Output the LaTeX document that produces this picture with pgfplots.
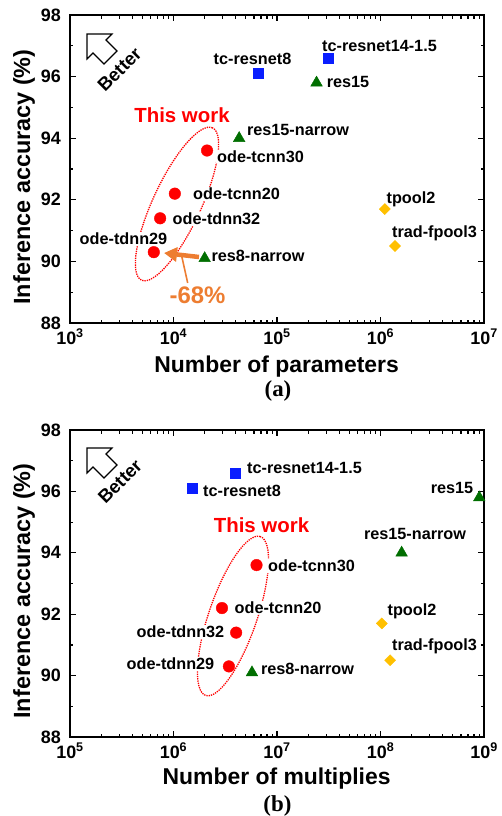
\documentclass[border=0pt]{standalone}
\usepackage{fontspec}
\setmainfont{Liberation Sans}
\newfontfamily\seriffont{Liberation Serif}
\usepackage{pgfplots}
\pgfplotsset{compat=1.18}
\usetikzlibrary{arrows.meta}
\definecolor{mred}{RGB}{255,0,0}
\definecolor{mblue}{RGB}{10,30,255}
\definecolor{mgreen}{RGB}{0,110,0}
\definecolor{myellow}{RGB}{255,192,0}
\definecolor{morange}{RGB}{237,125,49}
\newcommand{\fsz}[1]{\fontsize{#1}{#1}\selectfont\bfseries}
\pgfplotsset{
  myaxisstyle/.style={
    scale only axis, width=414bp,
    ymin=88, ymax=98, ytick={88,90,92,94,96,98},
    yticklabels={88,90,92,94,96,98},
    minor y tick num=1,
    axis line style={line width=1.5bp},
    every tick/.style={black, line width=1.2bp},
    major tick length=6bp, minor tick length=3.5bp,
    tick label style={font=\fsz{18}},
    yticklabel style={inner sep=0pt, xshift=-9bp},
    xticklabel style={inner sep=0pt, yshift=-6bp},
    label style={font=\fsz{23}},
    clip=false,
  },
  mycirc/.style={only marks, mark=*, mark size=5.8bp, color=mred},
  mysq/.style={only marks, mark=square*, mark size=5bp, color=mblue},
  mytri/.style={only marks, mark=triangle*, mark size=6.7bp, color=mgreen},
  mydia/.style={only marks, mark=square*, mark size=3.9bp, color=myellow, mark options={rotate=45}},
}
\begin{document}
\begin{tikzpicture}
\path[use as bounding box] (0,0) rectangle (502bp,-816bp);
\begin{scope}[x=1bp, y=-1bp]
  % ellipses
  \begin{scope}[shift={(177,204)}, rotate=65]
    \draw[mred, densely dotted, line width=1.3bp] (0,0) ellipse (84bp and 24bp);
  \end{scope}
  \begin{scope}[shift={(233,616)}, rotate=71]
    \draw[mred, densely dotted, line width=1.3bp] (0,0) ellipse (84bp and 24bp);
  \end{scope}
  % labels (a)
  \tikzset{lab/.style={fill=white, inner sep=0.8bp, font=\fsz{16.3}}}
  \node[lab] at (379.5,46) {tc-resnet14-1.5};
  \node[lab] at (252.5,59) {tc-resnet8};
  \node[lab] at (348,82) {res15};
  \node[lab] at (298,130) {res15-narrow};
  \node[lab] at (260.5,156.5) {ode-tcnn30};
  \node[lab] at (236.5,194) {ode-tcnn20};
  \node[lab] at (216.5,219) {ode-tdnn32};
  \node[lab] at (123.5,239) {ode-tdnn29};
  \node[lab] at (258,256) {res8-narrow};
  \node[lab] at (411,199.5) {tpool2};
  \node[lab] at (434.5,233.5) {trad-fpool3};
  \node[font=\fsz{20.5}, text=mred, inner sep=0pt] at (182,115) {This work};
  \node[font=\fsz{24}, text=morange, inner sep=0pt] at (197.5,295) {-68\%};
  \draw[morange, line width=1.6bp] (187.7,283) -- (181.7,256);
  \draw[morange, line width=4.5bp, -{Triangle[length=13bp,width=14bp]}] (199,257) -- (164,253);
  % labels (b)
  \node[lab] at (304.5,468) {tc-resnet14-1.5};
  \node[lab] at (242,491) {tc-resnet8};
  \node[lab] at (452,487.5) {res15};
  \node[lab] at (415,534) {res15-narrow};
  \node[lab] at (311.5,566) {ode-tcnn30};
  \node[lab] at (278,607.5) {ode-tcnn20};
  \node[lab] at (180.5,632) {ode-tdnn32};
  \node[lab] at (170.5,664) {ode-tdnn29};
  \node[lab] at (307.5,668.5) {res8-narrow};
  \node[lab] at (412,611.5) {tpool2};
  \node[lab] at (434.5,646) {trad-fpool3};
  \node[font=\fsz{20.5}, text=mred, inner sep=0pt] at (261.5,525) {This work};
  % Better arrows
  \foreach \dy in {0,414}{
    \begin{scope}[yshift=-\dy bp]
      \draw[line width=1.2bp, fill=white, line join=miter] (87,34)--(112,34)--(106,40)--(117,51)--(104,64)--(93,53)--(87,59)--cycle;
    \end{scope}
  }
  \node[rotate=45, font=\fsz{18.5}, inner sep=0pt] at (119.5,69.5) {Better};
  \node[rotate=45, font=\fsz{18.5}, inner sep=0pt] at (120,481.5) {Better};
  % captions
  \node[font=\seriffont\fontsize{23}{23}\selectfont\bfseries, inner sep=0pt] at (278,391) {(a)};
  \node[font=\seriffont\fontsize{23}{23}\selectfont\bfseries, inner sep=0pt] at (277.5,806) {(b)};
\end{scope}

% ---------- panel (a)
\begin{semilogxaxis}[myaxisstyle, at={(70bp,-15bp)}, anchor=north west, height=308bp,
  xmin=1e3, xmax=1e7,
  xtick={1e3,1e4,1e5,1e6,1e7},
  xticklabels={10\textsuperscript{3},10\textsuperscript{4},10\textsuperscript{5},10\textsuperscript{6},10\textsuperscript{7}},
  minor xtick={2e3,3e3,4e3,5e3,6e3,7e3,8e3,9e3,2e4,3e4,4e4,5e4,6e4,7e4,8e4,9e4,2e5,3e5,4e5,5e5,6e5,7e5,8e5,9e5,2e6,3e6,4e6,5e6,6e6,7e6,8e6,9e6},
  xlabel={Number of parameters},
  ylabel={Inference accuracy (\%)},
  xlabel style={at={(axis description cs:0.499,-0.143)}, anchor=center},
  ylabel style={at={(axis description cs:-0.111,0.474)}, anchor=center, font=\fsz{23.5}},
]
\addplot[mysq] coordinates {(6.65e4,96.1) (3.09e5,96.6)};
\addplot[mytri] coordinates {(2.41e5,95.8) (4.31e4,94.0) (2.0e4,90.1)};
\addplot[mycirc] coordinates {(2.11e4,93.6) (1.03e4,92.2) (7.43e3,91.4) (6.45e3,90.3)};
\addplot[mydia] coordinates {(1.10e6,91.7) (1.38e6,90.5)};
\end{semilogxaxis}

% ---------- panel (b)
\begin{semilogxaxis}[myaxisstyle, at={(70bp,-430bp)}, anchor=north west, height=307bp,
  xmin=1e5, xmax=1e9,
  xtick={1e5,1e6,1e7,1e8,1e9},
  xticklabels={10\textsuperscript{5},10\textsuperscript{6},10\textsuperscript{7},10\textsuperscript{8},10\textsuperscript{9}},
  minor xtick={2e5,3e5,4e5,5e5,6e5,7e5,8e5,9e5,2e6,3e6,4e6,5e6,6e6,7e6,8e6,9e6,2e7,3e7,4e7,5e7,6e7,7e7,8e7,9e7,2e8,3e8,4e8,5e8,6e8,7e8,8e8,9e8},
  xlabel={Number of multiplies},
  ylabel={Inference accuracy (\%)},
  xlabel style={at={(axis description cs:0.499,-0.137)}, anchor=center},
  ylabel style={at={(axis description cs:-0.111,0.4756)}, anchor=center, font=\fsz{23.5}},
]
\addplot[mysq] coordinates {(1.53e6,96.1) (3.93e6,96.6)};
\addplot[mytri] coordinates {(9.0e8,95.8) (1.60e8,94.0) (5.73e6,90.1)};
\addplot[mycirc] coordinates {(6.34e6,93.6) (2.94e6,92.2) (4.03e6,91.4) (3.43e6,90.3)};
\addplot[mydia] coordinates {(1.03e8,91.7) (1.24e8,90.5)};
\end{semilogxaxis}
\end{tikzpicture}
\end{document}
